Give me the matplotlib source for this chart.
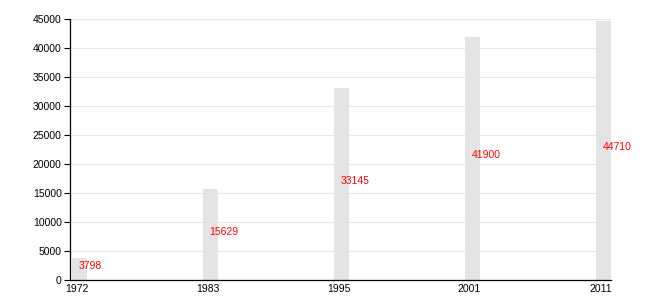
import matplotlib.pyplot as plt

years = ['1972', '1983', '1995', '2001', '2011']
population = [3798, 15629, 33145, 41900, 44710]

plt.rcParams['font.family'] = ['Liberation Sans', 'DejaVu Sans']

fig = plt.figure(figsize=(6.5, 3), dpi=100)
ax = fig.add_axes([0.1077, 0.0667, 0.8323, 0.87])

x = range(len(years))
ax.bar(x, population, width=0.115, color='#e4e4e4', zorder=2)

for i, v in zip(x, population):
    ax.text(i - 0.005, v / 2, str(v), color='#ff0000', fontsize=7.5,
            ha='left', va='baseline', zorder=3)

ax.set_xlim(-0.07, 4.06)
ax.set_ylim(0, 45000)
ax.set_yticks(range(0, 45001, 5000))
# labels sit a touch left of the bar centres
ax.set_xticks([i - 0.02 for i in x])
ax.set_xticklabels(years)
ax.tick_params(axis='both', labelsize=7.5, colors='black')
ax.tick_params(axis='x', length=0, pad=3)
ax.tick_params(axis='y', length=4, width=0.8, pad=2)

ax.grid(axis='y', color='#e6e6e6', linewidth=0.8, zorder=0)
ax.set_axisbelow(True)
for s in ['top', 'right']:
    ax.spines[s].set_visible(False)
ax.spines['left'].set_linewidth(0.9)
ax.spines['bottom'].set_linewidth(0.9)

plt.savefig('out.png', dpi=100)
